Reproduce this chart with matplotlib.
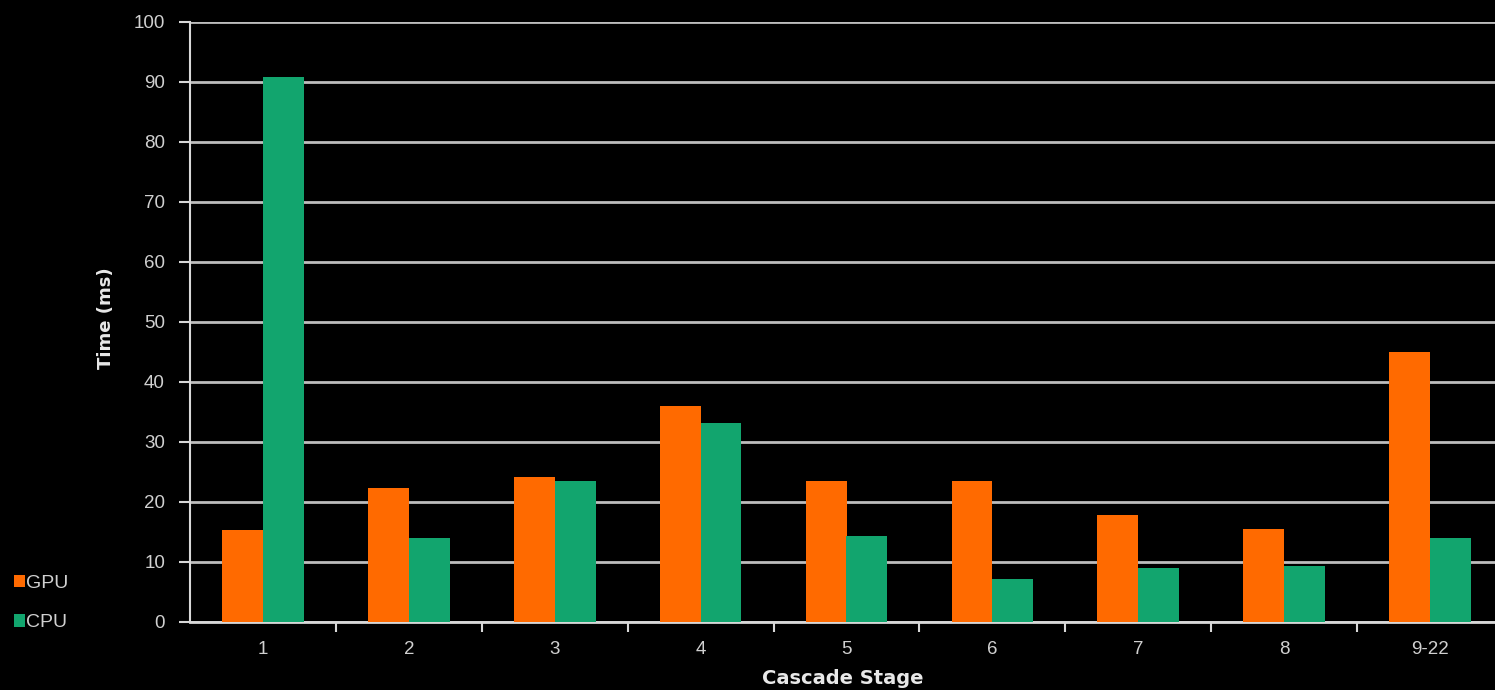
import matplotlib
matplotlib.use("Agg")
import matplotlib.pyplot as plt
import numpy as np

categories = ["1", "2", "3", "4", "5", "6", "7", "8", "9-22"]
gpu = [15.3, 22.3, 24.2, 36.0, 23.5, 23.5, 17.8, 15.5, 45.0]
cpu = [90.8, 14.0, 23.5, 33.2, 14.3, 7.2, 9.0, 9.3, 14.0]

plt.rcParams['font.family'] = ['Liberation Sans', 'DejaVu Sans']

fig = plt.figure(figsize=(14.95, 6.9), dpi=100, facecolor='black')
ax = fig.add_axes([190/1495, 1-622/690, (1503-190)/1495, (622-22)/690], facecolor='black')

x = np.arange(len(categories))
w = 0.28
b1 = ax.bar(x - w/2, gpu, w, color='#FF6A00', label='GPU', zorder=3)
b2 = ax.bar(x + w/2, cpu, w, color='#12A56E', label='CPU', zorder=3)

ax.set_xlim(-0.5, len(categories) - 0.5)
ax.set_ylim(0, 100)
ax.set_yticks(np.arange(0, 101, 10))
ax.yaxis.grid(True, color='#BDBDBD', linewidth=2, zorder=1)
ax.set_axisbelow(True)

ax.set_xticks(x)
ax.set_xticklabels(categories)
ax.set_xticks(np.arange(0.5, len(categories) - 0.5, 1), minor=True)
ax.tick_params(axis='x', which='major', length=0, pad=14, labelsize=13.5, labelcolor='#D0D0D0')
ax.tick_params(axis='x', which='minor', length=7, width=1.5, color='#D8D8D8', direction='out')
ax.tick_params(axis='y', length=8, width=1.5, color='#D8D8D8', labelsize=13.5, labelcolor='#D0D0D0', pad=10)

for s in ['top', 'right']:
    ax.spines[s].set_visible(False)
ax.spines['left'].set_color('#D8D8D8')
ax.spines['left'].set_linewidth(1.5)
ax.spines['bottom'].set_color('#D8D8D8')
ax.spines['bottom'].set_linewidth(2)

fig.text(843/1495, 1-678/690, 'Cascade Stage', ha='center', va='center',
         fontsize=14, fontweight='bold', color='#E8E8E8', family='DejaVu Sans')
fig.text(106/1495, 1-318/690, 'Time (ms)', ha='center', va='center', rotation=90,
         fontsize=13, fontweight='bold', color='#E8E8E8', family='DejaVu Sans')

leg = fig.legend(handles=[b1, b2], labels=['GPU', 'CPU'], loc='center left',
                 bbox_to_anchor=(0.0, 1-603/690), frameon=False,
                 handlelength=0.6, handleheight=0.6, handletextpad=0.05,
                 labelspacing=1.15, fontsize=14, borderaxespad=0.3)
for t in leg.get_texts():
    t.set_color('#D0D0D0')

fig.savefig('out.png', dpi=100, facecolor='black')
